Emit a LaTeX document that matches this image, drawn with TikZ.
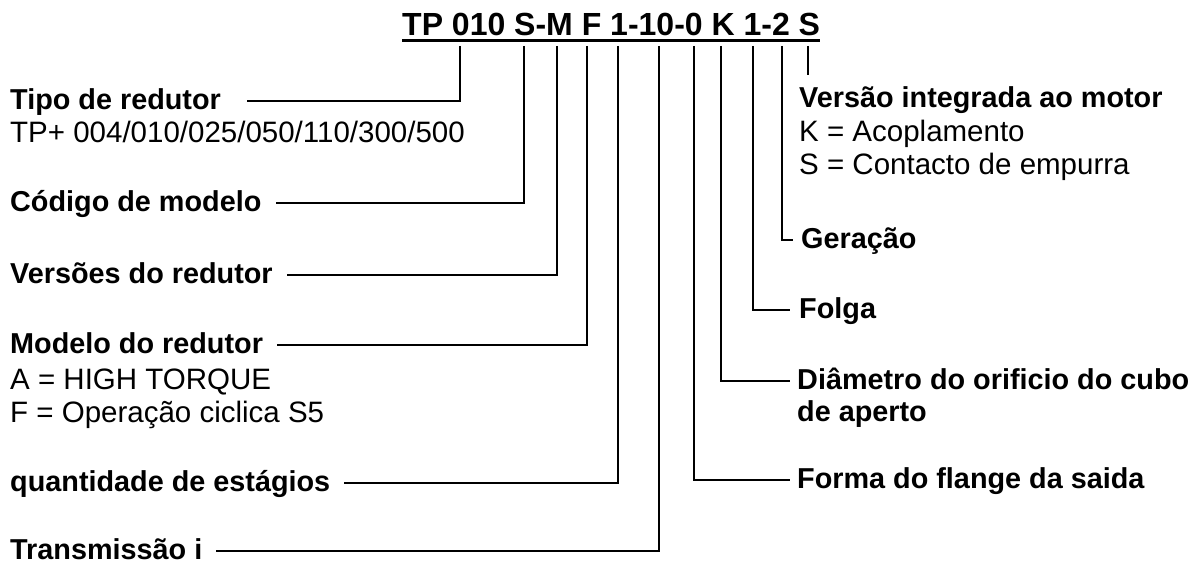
\documentclass[tikz,border=0pt]{standalone}
\usepackage{fontspec}
\setmainfont{Liberation Sans}

\begin{document}
\begin{tikzpicture}[x=1pt, y=-1pt,
    every node/.style={inner sep=0pt, anchor=west, text height=23pt, text depth=5.8pt},
    lbl/.style={font=\fontsize{28.8}{33}\selectfont\bfseries},
    val/.style={font=\fontsize{29.5}{33}\selectfont},
    link/.style={line width=2.4pt}]
  \useasboundingbox (0,0) rectangle (1199,564);
  % type code with underline
  \node[font=\fontsize{32}{38}\selectfont\bfseries, anchor=base west] (code) at (402,36)
    {TP 010 S-M F 1-10-0 K 1-2 S};
  \draw[line width=3pt] ([yshift=-5pt]code.base west) -- ([yshift=-5pt]code.base east);
  % tick tops under the code letters
  \coordinate (t010) at (460,46);
  \coordinate (tS) at (524,46);
  \coordinate (tM) at (557,46);
  \coordinate (tF) at (587,46);
  \coordinate (t1) at (618,46);
  \coordinate (t10) at (659,46);
  \coordinate (t0) at (694,46);
  \coordinate (tK) at (721,46);
  \coordinate (t12a) at (753,46);
  \coordinate (t12b) at (782,46);
  \coordinate (tSv) at (808,46);
  % left column
  \node[lbl] (tipo) at (10,101) {Tipo de redutor};
  \node[val] (tipoval) at (10,134) {TP+ 004/010/025/050/110/300/500};
  \node[lbl] (codigo) at (10,203) {Código de modelo};
  \node[lbl] (versoes) at (10,275) {Versões do redutor};
  \node[lbl] (modelo) at (10,345) {Modelo do redutor};
  \node[val] (modA) at (10,381) {A = HIGH TORQUE};
  \node[val] (modF) at (10,414) {F = Operação ciclica S5};
  \node[lbl] (qtd) at (10,483) {quantidade de estágios};
  \node[lbl, text height=19.2pt, text depth=2pt] (trans) at (10,551) {Transmissão i};
  % right column
  \node[lbl] (versao) at (799,99) {Versão integrada ao motor};
  \node[val] (versK) at (799,133) {K = Acoplamento};
  \node[val] (versS) at (799,166) {S = Contacto de empurra};
  \node[lbl] (geracao) at (801,240) {Geração};
  \node[lbl] (folga) at (799,310) {Folga};
  \node[lbl] (diam) at (797,381) {Diâmetro do orificio do cubo};
  \node[lbl] (diam2) at (797,413) {de aperto};
  \node[lbl] (forma) at (797,480) {Forma do flange da saida};
  % connectors
  \draw[link] (t010) |- ([xshift=26pt]tipo.east);
  \draw[link] (tS) |- ([xshift=14pt]codigo.east);
  \draw[link] (tM) |- ([xshift=14pt]versoes.east);
  \draw[link] (tF) |- ([xshift=14pt]modelo.east);
  \draw[link] (t1) |- ([xshift=14pt]qtd.east);
  \draw[link] (t10) |- ([xshift=14pt]trans.east);
  \draw[link] (t0) |- ([xshift=-7pt]forma.west);
  \draw[link] (tK) |- ([xshift=-7pt]diam.west);
  \draw[link] (t12a) |- ([xshift=-9pt]folga.west);
  \draw[link] (t12b) |- ([xshift=-8pt]geracao.west);
  \draw[link, shorten >=9pt] (tSv) -- (tSv |- versao.north);
\end{tikzpicture}
\end{document}
